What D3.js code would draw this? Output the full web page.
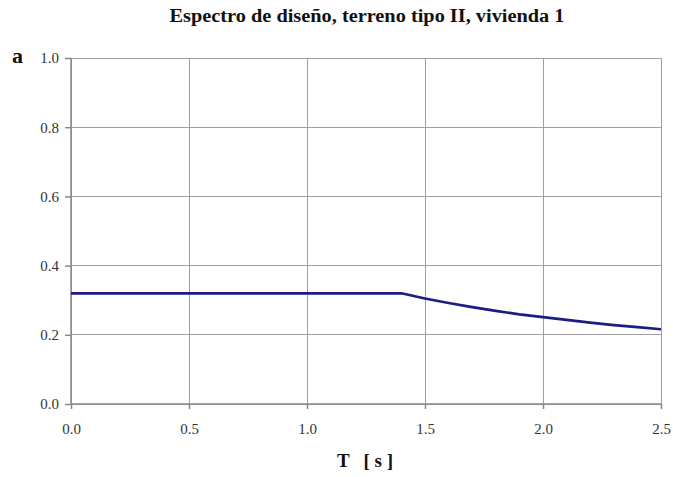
<!DOCTYPE html>
<html>
<head>
<meta charset="utf-8">
<script src="https://cdn.jsdelivr.net/npm/d3@7"></script>
<style>
  html, body { margin: 0; padding: 0; background: #fff; }
  svg { display: block; }
</style>
</head>
<body>
<script>
// Design spectrum: plateau up to T = 1.4 s, then descending branch
const periods = [0.0, 1.4, 1.5, 1.6, 1.7, 1.8, 1.9, 2.0, 2.1, 2.2, 2.3, 2.4, 2.5];
const accel   = [0.32, 0.32, 0.305, 0.292, 0.280, 0.269, 0.259, 0.251, 0.243, 0.235, 0.228, 0.222, 0.216];
const xTicks = [0.0, 0.5, 1.0, 1.5, 2.0, 2.5];
const yTicks = [0.0, 0.2, 0.4, 0.6, 0.8, 1.0];
const titleText = "Espectro de diseño, terreno tipo II, vivienda 1";
const xTitle = "T   [ s ]";
const yTitle = "a";

const W = 673, H = 477;
const margin = { left: 71, right: 12, top: 58, bottom: 73 };

const svg = d3.select("body").append("svg").attr("width", W).attr("height", H);
const serif = "'Liberation Serif', 'Times New Roman', serif";

const x = d3.scaleLinear().domain([0, 2.5]).range([margin.left, W - margin.right]);
const y = d3.scaleLinear().domain([0, 1]).range([H - margin.bottom, margin.top]);

// grid
svg.append("g").selectAll("line").data(yTicks).join("line")
  .attr("x1", x(0)).attr("x2", x(2.5))
  .attr("y1", d => y(d)).attr("y2", d => y(d))
  .attr("stroke", "#a0a0a0").attr("stroke-width", 1).attr("shape-rendering", "crispEdges");
svg.append("g").selectAll("line").data(xTicks).join("line")
  .attr("x1", d => x(d)).attr("x2", d => x(d))
  .attr("y1", y(0)).attr("y2", y(1))
  .attr("stroke", "#a0a0a0").attr("stroke-width", 1).attr("shape-rendering", "crispEdges");

// axes
const xAxis = svg.append("g").attr("transform", `translate(0,${y(0)})`)
  .call(d3.axisBottom(x).tickValues(xTicks).tickFormat(d3.format(".1f")).tickSize(5).tickPadding(14));
const yAxis = svg.append("g").attr("transform", `translate(${x(0)},0)`)
  .call(d3.axisLeft(y).tickValues(yTicks).tickFormat(d3.format(".1f")).tickSize(6).tickPadding(6));
[xAxis, yAxis].forEach(g => {
  g.attr("font-family", serif).attr("font-size", 15);
  g.selectAll("path, line").attr("stroke", "#888").attr("stroke-width", 1.5);
  g.selectAll("text")
    .style("font-family", serif)
    .style("font-size", "15px")
    .attr("fill", "#333");
});
yAxis.select(".domain").attr("d", `M0,${y(1)}V${y(0)}`);
xAxis.select(".domain").attr("d", `M${x(0)},0H${x(2.5)}`);

// spectrum curve
const line = d3.line().x((d, i) => x(periods[i])).y(d => y(d));
svg.append("path").datum(accel)
  .attr("d", line)
  .attr("fill", "none")
  .attr("stroke", "#1c1c84")
  .attr("stroke-width", 2.7)
  .attr("stroke-linejoin", "round");

// titles
svg.append("text").attr("x", 367).attr("y", 22).attr("text-anchor", "middle")
  .style("font-family", serif).style("font-weight", "bold").style("font-size", "18px")
  .attr("textLength", 395).attr("lengthAdjust", "spacingAndGlyphs")
  .attr("fill", "#111").text(titleText);
svg.append("text").attr("x", 17.5).attr("y", 63).attr("text-anchor", "middle")
  .style("font-family", serif).style("font-weight", "bold").style("font-size", "22px")
  .attr("fill", "#111").text(yTitle);
svg.append("text").attr("x", 365).attr("y", 467).attr("text-anchor", "middle")
  .style("font-family", serif).style("font-weight", "bold").style("font-size", "19px")
  .style("white-space", "pre")
  .attr("fill", "#111").text(xTitle);
</script>
</body>
</html>
